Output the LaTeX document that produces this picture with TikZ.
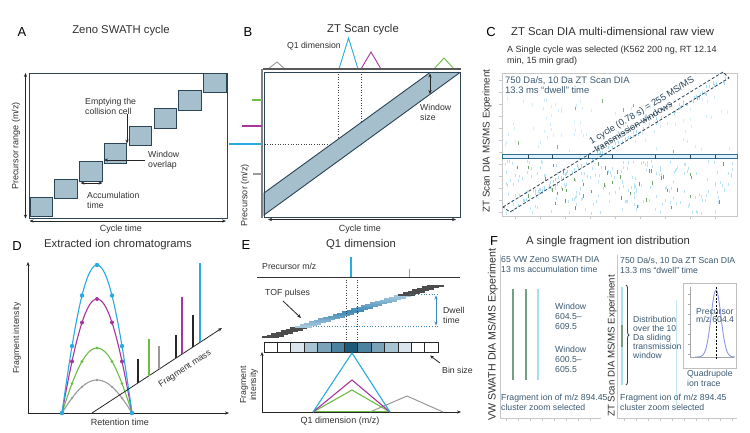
\documentclass[tikz,border=0pt]{standalone}
\usepackage{fontspec}
\setmainfont{Liberation Sans}
\usetikzlibrary{arrows.meta,decorations.pathreplacing}

\definecolor{zcyan}{HTML}{29ABE2}
\definecolor{zmag}{HTML}{A8359E}
\definecolor{zgreen}{HTML}{6CBE45}
\definecolor{zgrey}{HTML}{9A9A9A}
\definecolor{zslate}{HTML}{2B4456}
\definecolor{zfill}{HTML}{A5BFCC}
\definecolor{ztext}{HTML}{303030}
\definecolor{zblue}{HTML}{3C5A72}
\definecolor{zdwell}{HTML}{3F88B5}
\definecolor{zband}{HTML}{2E6F8E}
\definecolor{zdgreen}{HTML}{4E8A46}
\definecolor{zfgreen}{HTML}{72A081}
\definecolor{zlcyan}{HTML}{A9DDF0}
\definecolor{zbina}{HTML}{D9E6ED}
\definecolor{zbinb}{HTML}{A8C3D2}
\definecolor{zbinc}{HTML}{7AA3BA}
\definecolor{zbind}{HTML}{4B82A0}
\definecolor{zbine}{HTML}{1D5A7A}
\definecolor{ztrace}{HTML}{8D95E8}

\tikzset{
  panel/.style={font=\fontsize{13}{13}\selectfont, text=black, inner sep=0pt},
  heading/.style={font=\fontsize{11.3}{12}\selectfont, text=ztext, inner sep=0pt},
  lbl/.style={font=\fontsize{8.7}{10}\selectfont, text=ztext, inner sep=0pt, align=left},
  axlbl/.style={font=\fontsize{9}{10}\selectfont, text=ztext, inner sep=0pt, align=center},
  note/.style={font=\fontsize{9}{11}\selectfont, text=ztext, inner sep=0pt, align=left},
  bluetxt/.style={font=\fontsize{9.4}{10.3}\selectfont, text=zblue, inner sep=0pt, align=left},
  smallblue/.style={font=\fontsize{8.7}{10}\selectfont, text=zblue, inner sep=0pt, align=left},
  swin/.style={draw=zslate, fill=zfill, line width=0.9pt},
  boxframe/.style={draw=zslate, line width=1pt},
  pointer/.style={draw=black!85, line width=0.8pt, -{Stealth[length=4pt,width=3.2pt]}},
  twoway/.style={draw=black!85, line width=0.8pt, {Stealth[length=4pt,width=3.2pt]}-{Stealth[length=4pt,width=3.2pt]}},
  axis/.style={draw=black!85, line width=0.8pt, -{Stealth[length=4pt,width=3.2pt]}},
  guide/.style={draw=black!75, line width=0.6pt, dotted},
  faint/.style={draw=black!22, line width=0.5pt},
}

\begin{document}
\begin{tikzpicture}[x=1pt,y=-1pt]
\useasboundingbox (0,0) rectangle (750,432);
\fill[white] (0,0) rectangle (750,432);

% A
\node[panel] (pa) at (22,32) {A};
\node[heading] (ta) at (121,31) {Zeno SWATH cycle};
\draw[boxframe] (29,73) rectangle (227,218);
\foreach \i in {0,...,7}
  \draw[swin] ({30+24.8*\i},{197-17.7*\i}) rectangle +(22.5,19.5);
\coordinate (ayb) at (25.5,218.5); \coordinate (ayt) at (25.5,73);
\draw[twoway] (ayb) -- (ayt);
\node[axlbl, rotate=90] (aylab) at (16,146) {Precursor range (m/z)};
\coordinate (axl) at (29.5,221); \coordinate (axr) at (226,221);
\draw[twoway] (axl) -- (axr);
\node[axlbl] (axlab) at (121,229) {Cycle time};
\node[lbl, anchor=west] (aempty) at (85,106) {Emptying the\\collision cell};
\coordinate (aemptyend) at (127,143.5);
\draw[pointer] (aemptyend |- aempty.south) -- (aemptyend);
\node[lbl, anchor=west] (aovl) at (148,160) {Window\\overlap};
\coordinate (aovlend) at (104,160);
\draw[pointer] ([xshift=-3pt]aovl.west) -- (aovlend);
\coordinate (aaccl) at (80.5,183); \coordinate (aaccr) at (102.5,183);
\draw[twoway] (aaccl) -- (aaccr);
\node[lbl, anchor=west] (aacc) at (87,200) {Accumulation\\time};

% B
\node[panel] (pb) at (248,32) {B};
\node[heading] (tb) at (363,30) {ZT Scan cycle};
\node[lbl, anchor=east] (bq1) at (341,46) {Q1 dimension};
\draw[zgrey, line width=0.9pt] (268,69) -- (277,62) -- (285,69);
\draw[zcyan, line width=0.9pt] (339,69) -- (348.5,38) -- (358,69);
\draw[zmag, line width=0.9pt] (361,69) -- (371,52) -- (381,69);
\draw[zgreen, line width=0.9pt] (434,69) -- (444,58) -- (454,69);
\draw[guide] (338,69) -- (338,144);
\draw[guide] (361,69) -- (361,144);
\draw[guide] (262,144) -- (361,144);
\draw[swin] (264,215) -- (264,193) -- (430,72.5) -- (460,72.5) -- cycle;
\draw[zslate, line width=0.8pt] (264,72) rectangle (460,217);
\draw[black!65, line width=1.5pt] (263,69) -- (461,69);
\draw[black!50, line width=1.3pt] (262,69) -- (262,218);
\draw[zgreen, line width=1.2pt] (252,100) -- (262,100);
\draw[zmag, line width=1.2pt] (242,126) -- (262,126);
\draw[zcyan, line width=1.2pt] (229,144) -- (262,144);
\draw[zgrey, line width=1.2pt] (253,174) -- (262,174);
\coordinate (bwt) at (430,73.5); \coordinate (bwb) at (430,94);
\draw[twoway] (bwt) -- (bwb);
\node[lbl, anchor=west] (bws) at (420,112.5) {Window\\size};
\coordinate (bxl) at (268,219.5); \coordinate (bxr) at (456,219.5);
\draw[twoway] (bxl) -- (bxr);
\node[axlbl] (bxlab) at (360,229) {Cycle time};
\node[axlbl, rotate=90] (bylab) at (245,195) {Precursor (m/z)};

% C
\node[panel] (pc) at (491,32) {C};
\node[heading, anchor=west] (tc) at (511,31) {ZT Scan DIA multi-dimensional raw view};
\node[note, anchor=west] (csel) at (507,55.5) {A Single cycle was selected (K562 200 ng, RT 12.14\\min, 15 min grad)};
\node[axlbl, font=\fontsize{9.8}{10}\selectfont, rotate=90] (cylab) at (487,141) {ZT Scan DIA MS/MS Experiment};
\draw[faint] (502,73) rectangle (737,216);
\foreach \yt in {80,92,...,212} \draw[faint] (499,\yt) -- (502,\yt);
\foreach \xt in {515,540,...,735} \draw[faint] (\xt,216) -- (\xt,219);
\pgfmathsetseed{11}
\foreach \m in {1,...,80}{
  \pgfmathsetmacro\xa{505+230*rnd}
  \pgfmathsetmacro\ya{96+54*rnd}
  \draw[zcyan!22, line width=0.9pt] (\xa,\ya) -- ++(0,3);
}
\foreach \m in {1,...,200}{
  \pgfmathsetmacro\xa{505+230*rnd}
  \pgfmathsetmacro\ya{160+52*rnd}
  \draw[zcyan!32, line width=0.9pt] (\xa,\ya) -- ++(0,3);
}
\foreach \m in {1,...,90}{
  \pgfmathsetmacro\ta{rnd}
  \pgfmathsetmacro\xa{505+222*\ta+6*rnd}
  \pgfmathsetmacro\ya{206-134*\ta+6*rnd}
  \draw[zcyan!40, line width=0.9pt] (\xa,\ya) -- ++(0,3);
}
\foreach \m in {1,...,42}{
  \pgfmathsetmacro\xa{505+230*rnd}
  \pgfmathsetmacro\ya{162+50*rnd}
  \draw[zdgreen!80, line width=1pt] (\xa,\ya) -- ++(0,3.5);
}
\foreach \m in {1,...,8}{
  \pgfmathsetmacro\xa{505+230*rnd}
  \pgfmathsetmacro\ya{90+60*rnd}
  \draw[zdgreen!65, line width=1pt] (\xa,\ya) -- ++(0,3.5);
}
\draw[zband, fill=zcyan!15, line width=0.8pt] (502,154.5) rectangle (737,158.5);
\foreach \xt in {528,552,588,612,655,690,715} \draw[zslate, line width=0.8pt] (\xt,154.5) -- (\xt,158.5);
\coordinate (cd1) at (503,207); \coordinate (cd2) at (723,72);
\coordinate (cd3) at (729,78); \coordinate (cd4) at (510,212);
\draw[zslate, line width=0.8pt, dash pattern=on 3pt off 2pt] (cd1) -- (cd2) -- (cd3) -- (cd4) -- cycle;
\node[bluetxt, anchor=west] (c750) at (505,85) {750 Da/s, 10 Da ZT Scan DIA\\13.3 ms “dwell” time};
\node[font=\fontsize{9.2}{9.6}\selectfont, text=zslate, inner sep=0pt, align=left, rotate=31.5] (ccyc) at (644,114.5) {1 cycle (0.78 s) = 255 MS/MS\\transmission windows};

% D
\node[panel] (pd) at (17,246) {D};
\node[heading] (td) at (118,245) {Extracted ion chromatograms};
\coordinate (do) at (28,413); \coordinate (dyt) at (28,262); \coordinate (dxr) at (229,413);
\draw[axis] (do) -- (dyt);
\draw[axis] (do) -- (dxr);
\node[lbl, rotate=90] (dylab) at (17,338) {Fragment intensity};
\node[axlbl] (dxlab) at (120,422) {Retention time};
\foreach \hh/\col/\rad in {33/zgrey/1.3, 65/zgreen/1.6, 114/zmag/2, 148/zcyan/2.2}{
  \draw[\col, line width=1.1pt] plot[domain=-1:1, samples=41, smooth] ({97+35*\x},{413-\hh*(1-(\x)*(\x))*(1-0.15*(\x)*(\x))});
  \foreach \t in {-1,-0.7143,-0.4286,0,0.4286,0.7143,1}
    \fill[\col] ({97+35*(\t)},{413-\hh*(1-(\t)*(\t))*(1-0.15*(\t)*(\t))}) circle (\rad pt);
}
\coordinate (dm0) at (92,413); \coordinate (dm1) at (222,328);
\draw[axis] (dm0) -- (dm1);
\foreach \xs/\ys/\col in {138/359/black!85, 149/339/zgreen, 159/346/zgrey, 176/335/black!85, 182/297/zmag, 193/315/black!85, 200/263/zcyan}
  \draw[\col, line width=1.6pt] (\xs,{413-0.6538*(\xs-92)}) -- (\xs,\ys);
\node[lbl, rotate=33] (dfm) at (185,369) {Fragment mass};

% E
\node[panel] (pe) at (246,245) {E};
\node[heading] (te) at (361,244) {Q1 dimension};
\node[lbl, anchor=west] (epmz) at (262,266) {Precursor m/z};
\draw[black!80, line width=0.8pt] (257,277) -- (460,277);
\draw[zcyan, line width=1.4pt] (351,277) -- (351,257);
\draw[zgrey, line width=0.8pt] (409,277) -- (409,269);
\foreach \i in {0,...,35}{
  \pgfmathtruncatemacro\sh{100-55*abs(\i-17.5)/11}
  \ifnum\i<7 \def\pc{black!70}\else\ifnum\i>28 \def\pc{black!70}\else\edef\pc{zdwell!\sh!white}\fi\fi
  \draw[\pc, line width=2pt] ({262+4.7*\i},{337-1.46*\i}) -- ++(17,0);
}
\draw[guide] (346,277) -- (346,342);
\draw[guide] (357,277) -- (357,342);
\draw[zdwell, dotted, line width=0.7pt] (410,294.5) -- (438,294.5);
\draw[zdwell, dotted, line width=0.7pt] (313,326) -- (438,326);
\coordinate (edt) at (436,295.5); \coordinate (edb) at (436,325.5);
\draw[twoway, draw=zdwell] (edt) -- (edb);
\node[lbl, anchor=west] (edw) at (443,315) {Dwell\\time};
\node[lbl, anchor=west] (etof) at (265,293) {TOF pulses};
\coordinate (etofa) at (283,301); \coordinate (etofb) at (301,318);
\draw[pointer] (etofa) -- (etofb);
\foreach \col [count=\m from 0] in {white,white,zbina,zbinb,zbinc,zbind,zbine,zbind,zbinc,zbinb,zbina,white,white}
  \draw[black!85, line width=0.7pt, fill=\col] ({264+13.385*\m},342) rectangle +(13.385,10.5);
\node[lbl, anchor=west] (ebs) at (442,370) {Bin size};
\coordinate (ebsa) at (440,363); \coordinate (ebsb) at (430,355.5);
\draw[pointer] (ebsa) -- (ebsb);
\coordinate (eo) at (262,412); \coordinate (eyt) at (262,352); \coordinate (exr) at (461,412);
\draw[axis] (eo) -- (eyt);
\draw[axis] (eo) -- (exr);
\node[lbl, align=center, rotate=90] (eylab) at (249,385) {Fragment\\intensity};
\node[axlbl] (exlab) at (340,421) {Q1 dimension (m/z)};
\draw[zgrey, line width=1pt] (370,412) -- (407,396) -- (443,412);
\draw[zgreen, line width=1.1pt] (313,411.5) -- (390,411.5);
\draw[zgreen, line width=1.1pt] (313,412) -- (352,390) -- (390,412);
\draw[zmag, line width=1.1pt] (313,412) -- (352,380) -- (390,412);
\draw[zcyan, line width=1.1pt] (313,412) -- (352,353) -- (390,412);

% F
\node[panel] (pf) at (494,241) {F};
\node[heading] (tf) at (608,242) {A single fragment ion distribution};
\node[axlbl, font=\fontsize{10.6}{11}\selectfont, rotate=90] (fylab) at (493,335) {VW SWATH DIA MS/MS Experiment};
\draw[faint] (500,255) -- (500,418) -- (601,418);
\foreach \xt in {506,518,...,600} \draw[faint] (\xt,418) -- (\xt,420.5);
\node[smallblue, anchor=west] (fvw) at (501,264) {65 VW Zeno SWATH DIA\\13 ms accumulation time};
\draw[zfgreen, line width=1.2pt] (513,289) -- (513,380);
\draw[zfgreen, line width=1.2pt] (526,289) -- (526,380);
\draw[zlcyan, line width=1.2pt] (538,289) -- (538,380);
\node[smallblue, anchor=west] (fw1) at (555,316) {Window\\604.5–\\609.5};
\node[smallblue, anchor=west] (fw2) at (555,359) {Window\\600.5–\\605.5};
\node[smallblue, anchor=west] (ffr1) at (501,402) {Fragment ion of m/z 894.45\\cluster zoom selected};
\node[axlbl, font=\fontsize{9.7}{10}\selectfont, rotate=90] (fzlab) at (612,346) {ZT Scan DIA MS/MS Experiment};
\draw[faint] (617,255) -- (617,418) -- (737,418);
\foreach \xt in {624,636,...,736} \draw[faint] (\xt,418) -- (\xt,420.5);
\node[smallblue, anchor=west] (fzt) at (620,265) {750 Da/s, 10 Da ZT Scan DIA\\13.3 ms “dwell” time};
\draw[zlcyan, line width=1.2pt] (622,287) -- (622,385);
\draw[zfgreen, line width=1.2pt] (622,325) -- (622,347);
\draw[zlcyan!70, line width=0.8pt] (676,300) -- (676,405);
\coordinate (fbt) at (626,285); \coordinate (fbb) at (626,385);
\draw[zslate, line width=0.8pt, decorate, decoration={brace, amplitude=3pt}] (fbt) -- (fbb);
\node[smallblue, font=\fontsize{8.6}{8.8}\selectfont, anchor=west] (fdist) at (633,337.5) {Distribution\\over the 10\\Da sliding\\transmission\\window};
\draw[black!25, fill=white, line width=0.6pt] (683,283) rectangle (736,368);
\draw[black!35, line width=0.4pt] (690,287) -- (690,357) -- (734,357);
\foreach \yt in {294,304,...,354} \draw[black!35, line width=0.4pt] (688,\yt) -- (690,\yt);
\draw[ztrace, line width=0.9pt] plot[domain=695:735, samples=50, smooth] (\x,{357-67*exp(-((\x-716)/7)^2)});
\draw[black, line width=0.7pt, dash pattern=on 2pt off 1.5pt] (716,287) -- (716,360);
\node[smallblue, font=\fontsize{8.6}{8}\selectfont, anchor=west] (fprc) at (696,316) {Precursor\\m/z 604.4};
\node[smallblue, anchor=west] (fqt) at (687,378) {Quadrupole\\ion trace};
\node[smallblue, anchor=west] (ffr2) at (620,402) {Fragment ion of m/z 894.45\\cluster zoom selected};
\end{tikzpicture}
\end{document}
